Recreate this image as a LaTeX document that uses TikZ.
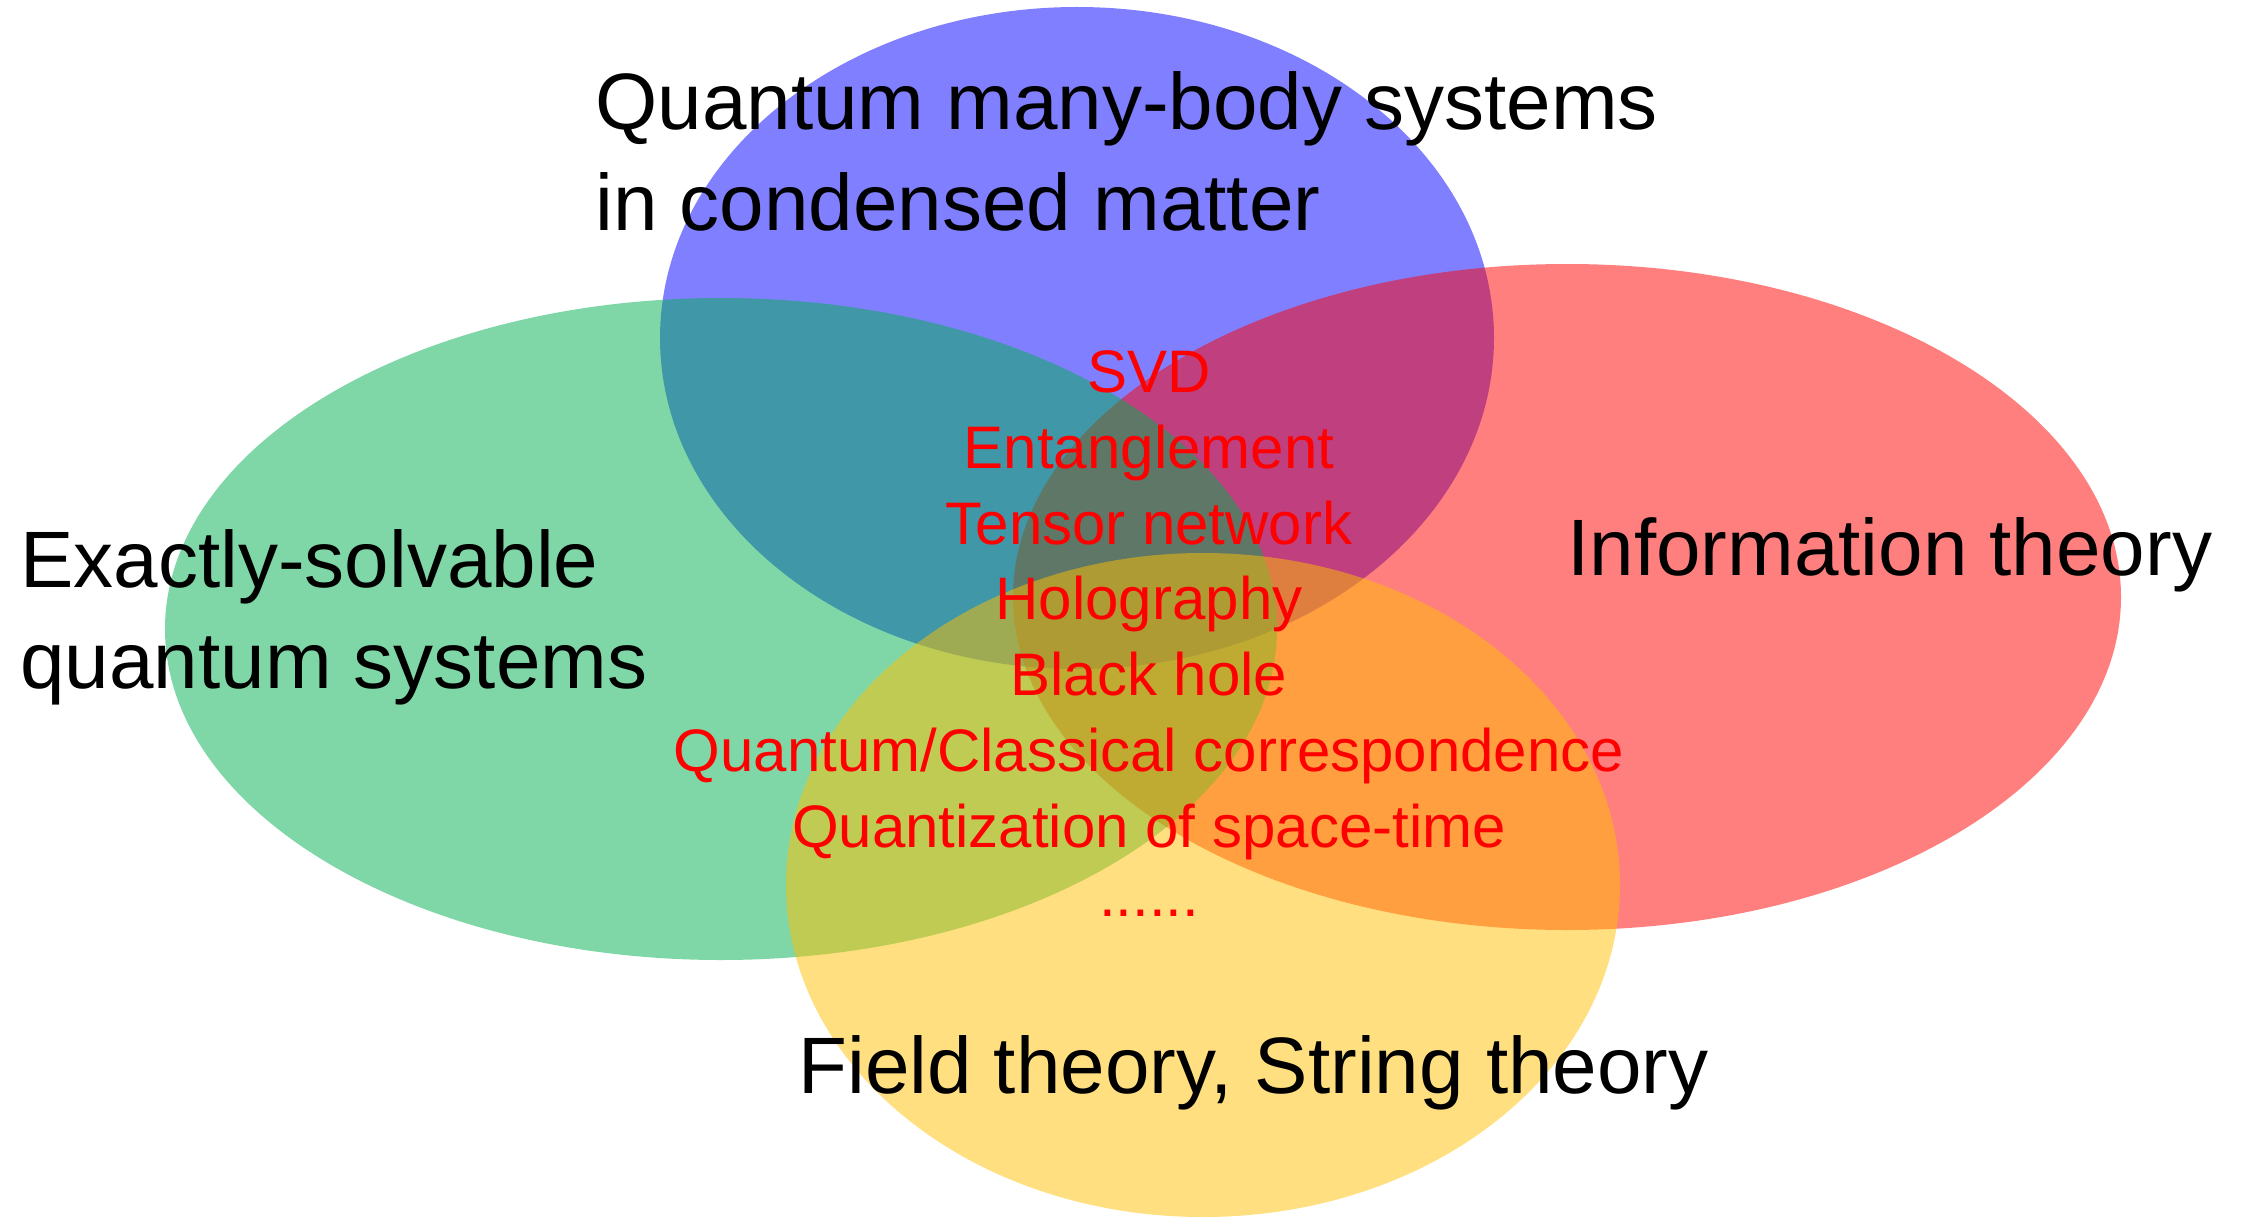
\documentclass[tikz,border=0pt]{standalone}
\usepackage{fontspec}
\setmainfont{Liberation Sans}
\definecolor{vblue}{RGB}{0,0,255}
\definecolor{vred}{RGB}{255,0,0}
\definecolor{vgreen}{RGB}{0,176,80}
\definecolor{vyellow}{RGB}{255,192,0}
\tikzset{
  blob/.style={fill opacity=0.5, draw=none},
  biglabel/.style={anchor=base west, inner sep=0pt, align=left, font=\fontsize{40}{50.5}\selectfont, text=black},
  redlabel/.style={anchor=base, inner sep=0pt, font=\fontsize{30}{37.9}\selectfont, text=vred}
}
\begin{document}
\begin{tikzpicture}[x=0.5pt,y=-0.5pt]
\useasboundingbox (0,0) rectangle (2254,1225);
% ellipses (order: blue, red, green, yellow)
\fill[blob, vblue]   (1077,338) ellipse [x radius=417, y radius=331];
\fill[blob, vred]    (1567,597) ellipse [x radius=554, y radius=333];
\fill[blob, vgreen]  (721,629)  ellipse [x radius=556, y radius=331];
\fill[blob, vyellow] (1203,885) ellipse [x radius=417, y radius=332];
% region labels (multi-line: point is the last line's baseline)
\node[biglabel] (qmb) at (595,231) {Quantum many-body systems\\in condensed matter};
\node[biglabel] (exs) at (20,688) {Exactly-solvable\\quantum systems};
\node[biglabel] (inf) at (1567,575) {Information theory};
\node[biglabel] (fst) at (798,1093) {Field theory, String theory};
% central list
\node[redlabel] (l1) at (1149,392) {SVD};
\node[redlabel] (l2) at (1149,468) {Entanglement};
\node[redlabel] (l3) at (1149,544) {Tensor network};
\node[redlabel] (l4) at (1149,619) {Holography};
\node[redlabel] (l5) at (1149,695) {Black hole};
\node[redlabel] (l6) at (1149,771) {Quantum/Classical correspondence};
\node[redlabel] (l7) at (1149,847) {Quantization of space-time};
\node[redlabel] (l8) at (1149,916) {......};
\end{tikzpicture}
\end{document}
